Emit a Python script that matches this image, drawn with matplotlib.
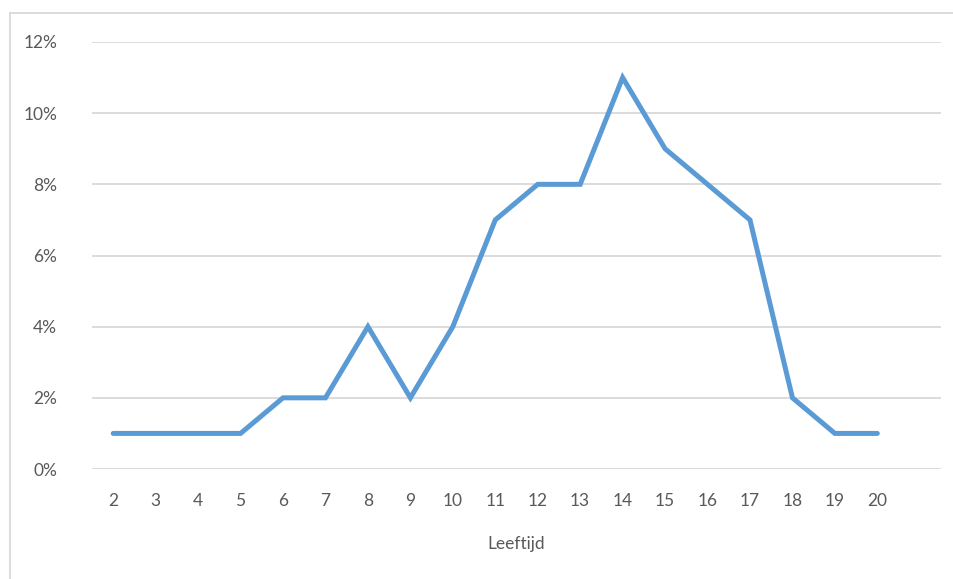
import matplotlib.pyplot as plt
from matplotlib.lines import Line2D
from matplotlib.ticker import PercentFormatter

ages = [2, 3, 4, 5, 6, 7, 8, 9, 10, 11, 12, 13, 14, 15, 16, 17, 18, 19, 20]
percent = [1, 1, 1, 1, 2, 2, 4, 2, 4, 7, 8, 8, 11, 9, 8, 7, 2, 1, 1]
y_ticks = [0, 2, 4, 6, 8, 10, 12]

plt.rcParams['font.family'] = ['Lato', 'DejaVu Sans']
text_col = '#595959'
fs = 12.5

W, H = 954, 579
fig = plt.figure(figsize=(W / 100, H / 100), dpi=100)
ax = fig.add_axes([92 / W, 1 - 469 / H, (941 - 92) / W, (469 - 42) / H])

# category positions like excel: one slot per category, plus one empty slot on the right
pos = list(range(len(ages)))
ax.plot(pos, percent, color='#5B9BD5', lw=3.6, solid_capstyle='round', solid_joinstyle='miter', zorder=3)

ax.set_xlim(-0.5, len(ages) + 0.5)
ax.set_ylim(0, 12)
ax.set_yticks(y_ticks)
ax.yaxis.set_major_formatter(PercentFormatter(decimals=0))
ax.set_xticks(pos)
ax.set_xticklabels([str(a) for a in ages])

ax.grid(axis='y', color='#D9D9D9', lw=1.3)
ax.set_axisbelow(True)
for s in ax.spines.values():
    s.set_visible(False)
ax.tick_params(length=0, colors=text_col, labelsize=fs)
ax.tick_params(axis='y', pad=25)
ax.tick_params(axis='x', pad=17)
ax.set_xlabel('Leeftijd', color=text_col, fontsize=fs, labelpad=20)

# border of the chart area (cut off at right and bottom)
fig.add_artist(Line2D([10 / W, 1], [1 - 13 / H, 1 - 13 / H], color='#D9D9D9', lw=1.3))
fig.add_artist(Line2D([10 / W, 10 / W], [0, 1 - 13 / H], color='#D9D9D9', lw=1.3))

fig.savefig('out.png', dpi=100)
